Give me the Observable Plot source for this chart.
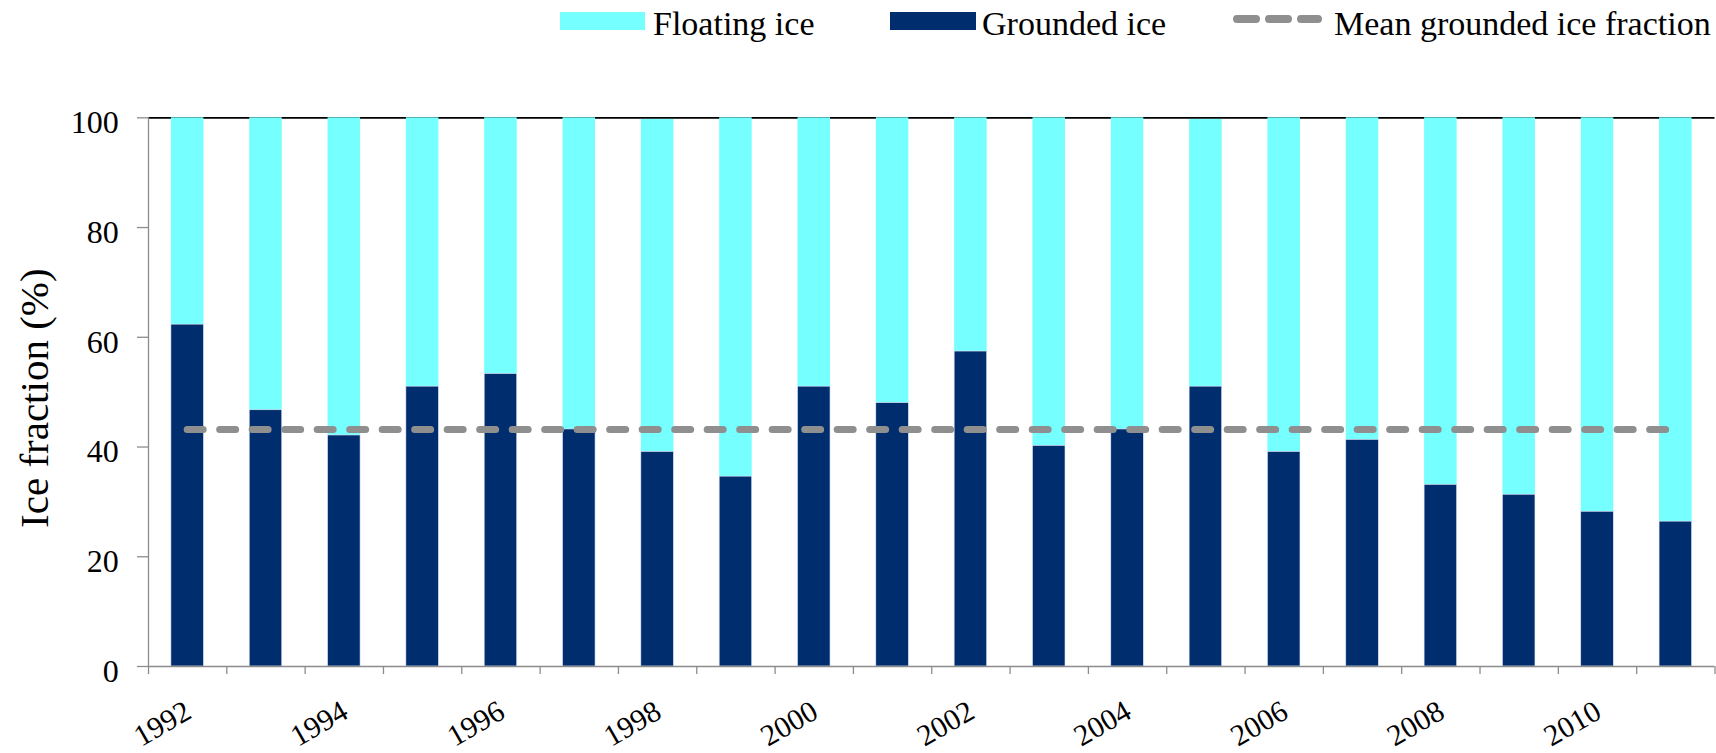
<!DOCTYPE html>
<html>
<head>
<meta charset="utf-8">
<script src="https://cdn.jsdelivr.net/npm/d3@7"></script>
<script src="https://cdn.jsdelivr.net/npm/@observablehq/plot@0.6"></script>
<style>
  body { margin: 0; background: #fff; font-family: "Liberation Serif", "Times New Roman", serif; }
  #legend { position: relative; width: 1716px; height: 58px; }
  .sw { position: absolute; top: 12px; height: 18px; }
  .lt { position: absolute; top: 6.5px; font-size: 34px; line-height: 1; color: #000; white-space: nowrap; }
  #chart svg { display: block; }
  #chart svg, #chart svg text { font-family: "Liberation Serif", "Times New Roman", serif !important; }
</style>
</head>
<body>
<div id="legend"></div>
<div id="chart"></div>
<script>
// ---- data ----
const years = [1992, 1993, 1994, 1995, 1996, 1997, 1998, 1999, 2000, 2001,
               2002, 2003, 2004, 2005, 2006, 2007, 2008, 2009, 2010, 2011];
const groundedIce = [62.3, 46.7, 42.1, 51.0, 53.3, 43.2, 39.1, 34.6, 51.0, 48.0,
                     57.4, 40.2, 43.2, 51.0, 39.1, 41.3, 33.1, 31.3, 28.2, 26.4];
const totalIce = [100, 100, 100, 100, 100, 100, 99.7, 100, 100, 100,
                  100, 100, 100, 99.7, 100, 100, 100, 100, 100, 100];
const meanGroundedFraction = 43.2;
const yTicks = [0, 20, 40, 60, 80, 100];
const xTickLabels = ["1992", "1994", "1996", "1998", "2000", "2002", "2004", "2006", "2008", "2010"];
const seriesNames = ["Floating ice", "Grounded ice", "Mean grounded ice fraction"];
const yTitle = "Ice fraction (%)";

// ---- styles ----
const cyan = "#75FFFF";
const navy = "#002D6E";
const dashGray = "#8F8F8F";
const axisGray = "#8C8C8C";

// ---- legend ----
const legend = document.getElementById("legend");
legend.innerHTML = `
  <div class="sw" style="left:560px;width:85px;background:${cyan}"></div>
  <div class="lt" style="left:653px">${seriesNames[0]}</div>
  <div class="sw" style="left:890px;width:86px;background:${navy}"></div>
  <div class="lt" style="left:982px">${seriesNames[1]}</div>
  <svg style="position:absolute;left:1230px;top:0" width="96" height="40">
    <line x1="7" x2="88" y1="19" y2="19" stroke="${dashGray}" stroke-width="8"
          stroke-dasharray="19,13" stroke-linecap="round"/>
  </svg>
  <div class="lt" style="left:1334px">${seriesNames[2]}</div>
`;

// ---- chart ----
const data = years.map((y, i) => ({year: y, grounded: groundedIce[i], total: totalIce[i]}));
const first = years[0], last = years[years.length - 1];
const edges = years.concat([last + 1]);
const inset = 22.9;

const chart = Plot.plot({
  width: 1716,
  height: 695,
  marginLeft: 148,
  marginRight: 1.5,
  marginTop: 59.3,
  marginBottom: 87,
  x: {type: "linear", domain: [first, last + 1], axis: null},
  y: {domain: [0, 100], axis: null},
  style: {background: "white", overflow: "visible", color: "black"},
  marks: [
    Plot.ruleY([100], {stroke: "#000", strokeWidth: 1.7}),
    Plot.rectY(data, {x1: "year", x2: d => d.year + 1, y1: "grounded", y2: "total",
      fill: cyan, insetLeft: inset, insetRight: inset}),
    Plot.rectY(data, {x1: "year", x2: d => d.year + 1, y1: 0, y2: "grounded",
      fill: navy, stroke: "#dde6f5", strokeWidth: 0.6, insetLeft: inset, insetRight: inset}),
    Plot.ruleY([meanGroundedFraction], {x1: first + 0.5, x2: last + 0.5,
      stroke: dashGray, strokeWidth: 7, strokeDasharray: "16,16.5", strokeLinecap: "round"}),
    Plot.ruleX([first], {stroke: axisGray, strokeWidth: 1.3}),
    Plot.ruleY([0], {stroke: axisGray, strokeWidth: 1.3}),
    Plot.axisY({ticks: yTicks, tickSize: 11, tickFormat: () => "", label: null,
      stroke: axisGray, strokeWidth: 1.3}),
    Plot.text(yTicks, {y: d => d, text: d => String(d), frameAnchor: "left", dx: -29.7, dy: 5,
      textAnchor: "end", fontSize: 32, fill: "black"}),
    Plot.axisX({ticks: edges, tickSize: 8, tickFormat: () => "", label: null,
      stroke: axisGray, strokeWidth: 1.3}),
    Plot.text(xTickLabels, {x: d => +d + 0.5, text: d => d, frameAnchor: "bottom", rotate: -30,
      textAnchor: "end", lineAnchor: "top", dx: -5, dy: 32, fontSize: 30, fill: "black"}),
    Plot.text([yTitle], {text: d => d, frameAnchor: "left", rotate: -90, textAnchor: "middle",
      lineAnchor: "bottom", dx: -101, dy: 6, fontSize: 41, fill: "black"})
  ]
});
document.getElementById("chart").appendChild(chart);
</script>
</body>
</html>
